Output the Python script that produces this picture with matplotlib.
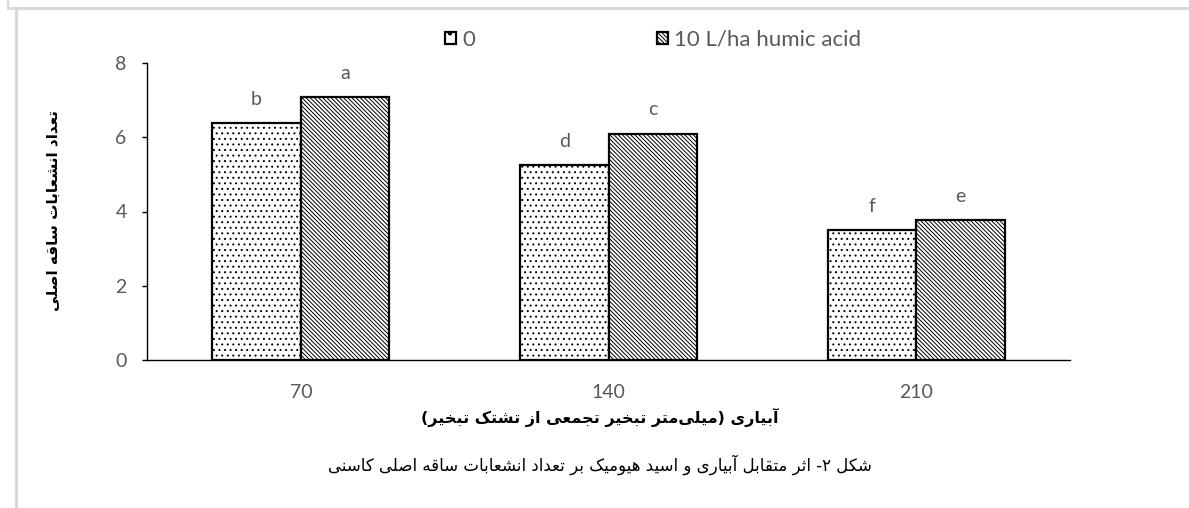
import numpy as np
import matplotlib
matplotlib.use("Agg")
import matplotlib.pyplot as plt
from matplotlib.patches import Patch
from matplotlib.lines import Line2D

# values
irrigation = ["70", "140", "210"]
series_names = ["0", "10 L/ha humic acid"]
no_humic = [6.38, 5.25, 3.50]
humic = [7.08, 6.10, 3.78]
letters_no_humic = ["b", "d", "f"]
letters_humic = ["a", "c", "e"]

Y_LABEL = "تعداد انشعابات ساقه اصلی"
X_LABEL = "آبیاری (میلی\u200cمتر تبخیر تجمعی از تشتک تبخیر)"
CAPTION = "شکل ۲- اثر متقابل آبیاری و اسید هیومیک بر تعداد انشعابات ساقه اصلی کاسنی"

GREY = "#595959"

# matplotlib does no Arabic shaping, so pick the contextual forms by hand
# letter -> (isolated, final[, initial, medial])
FORMS = {
    "\u0627": ("\uFE8D", "\uFE8E"),
    "\u0622": ("\uFE81", "\uFE82"),
    "\u0628": ("\uFE8F", "\uFE90", "\uFE91", "\uFE92"),
    "\u067E": ("\uFB56", "\uFB57", "\uFB58", "\uFB59"),
    "\u062A": ("\uFE95", "\uFE96", "\uFE97", "\uFE98"),
    "\u062B": ("\uFE99", "\uFE9A", "\uFE9B", "\uFE9C"),
    "\u062C": ("\uFE9D", "\uFE9E", "\uFE9F", "\uFEA0"),
    "\u0686": ("\uFB7A", "\uFB7B", "\uFB7C", "\uFB7D"),
    "\u062D": ("\uFEA1", "\uFEA2", "\uFEA3", "\uFEA4"),
    "\u062E": ("\uFEA5", "\uFEA6", "\uFEA7", "\uFEA8"),
    "\u062F": ("\uFEA9", "\uFEAA"),
    "\u0630": ("\uFEAB", "\uFEAC"),
    "\u0631": ("\uFEAD", "\uFEAE"),
    "\u0632": ("\uFEAF", "\uFEB0"),
    "\u0698": ("\uFB8A", "\uFB8B"),
    "\u0633": ("\uFEB1", "\uFEB2", "\uFEB3", "\uFEB4"),
    "\u0634": ("\uFEB5", "\uFEB6", "\uFEB7", "\uFEB8"),
    "\u0635": ("\uFEB9", "\uFEBA", "\uFEBB", "\uFEBC"),
    "\u0636": ("\uFEBD", "\uFEBE", "\uFEBF", "\uFEC0"),
    "\u0637": ("\uFEC1", "\uFEC2", "\uFEC3", "\uFEC4"),
    "\u0638": ("\uFEC5", "\uFEC6", "\uFEC7", "\uFEC8"),
    "\u0639": ("\uFEC9", "\uFECA", "\uFECB", "\uFECC"),
    "\u063A": ("\uFECD", "\uFECE", "\uFECF", "\uFED0"),
    "\u0641": ("\uFED1", "\uFED2", "\uFED3", "\uFED4"),
    "\u0642": ("\uFED5", "\uFED6", "\uFED7", "\uFED8"),
    "\u06A9": ("\uFB8E", "\uFB8F", "\uFB90", "\uFB91"),
    "\u06AF": ("\uFB92", "\uFB93", "\uFB94", "\uFB95"),
    "\u0644": ("\uFEDD", "\uFEDE", "\uFEDF", "\uFEE0"),
    "\u0645": ("\uFEE1", "\uFEE2", "\uFEE3", "\uFEE4"),
    "\u0646": ("\uFEE5", "\uFEE6", "\uFEE7", "\uFEE8"),
    "\u0648": ("\uFEED", "\uFEEE"),
    "\u0647": ("\uFEE9", "\uFEEA", "\uFEEB", "\uFEEC"),
    "\u06CC": ("\uFBFC", "\uFBFD", "\uFBFE", "\uFBFF"),
}
MIRROR = {"(": ")", ")": "("}


def shape(word):
    out = []
    for i, ch in enumerate(word):
        forms = FORMS.get(ch)
        if forms is None:
            if ch != "\u200c":
                out.append(ch)
            continue
        prev = FORMS.get(word[i - 1]) if i > 0 else None
        nxt = FORMS.get(word[i + 1]) if i + 1 < len(word) else None
        join_prev = prev is not None and len(prev) == 4
        join_next = nxt is not None and len(forms) == 4
        if join_prev and join_next:
            out.append(forms[3])
        elif join_prev:
            out.append(forms[1])
        elif join_next:
            out.append(forms[2])
        else:
            out.append(forms[0])
    return "".join(out)


def rtl(text):
    # whole line is right-to-left; brackets swap when reversed
    return "".join(MIRROR.get(c, c) for c in shape(text)[::-1])


plt.rcParams["font.family"] = ["Lato", "DejaVu Sans"]
plt.rcParams["hatch.linewidth"] = 0.7

W, H = 1189, 508
fig = plt.figure(figsize=(W / 100, H / 100), dpi=100)
ax = fig.add_axes([147 / W, 148 / H, 923 / W, 297 / H])

x = np.arange(len(irrigation))
width = 0.288
dots = "..."
lines = "\\" * 8
bars0 = ax.bar(x - width / 2, no_humic, width, facecolor="white", edgecolor="black",
               linewidth=1.6, hatch=dots, label=series_names[0])
bars1 = ax.bar(x + width / 2, humic, width, facecolor="white", edgecolor="black",
               linewidth=1.6, hatch=lines, label=series_names[1])

for bars, letters in [(bars0, letters_no_humic), (bars1, letters_humic)]:
    for rect, letter in zip(bars, letters):
        ax.annotate(letter, (rect.get_x() + rect.get_width() / 2, rect.get_height()),
                    xytext=(0, 13), textcoords="offset points", ha="center",
                    va="baseline", fontsize=14, color=GREY)

ax.set_xlim(-0.5, 2.5)
ax.set_ylim(0, 8)
ax.set_yticks([0, 2, 4, 6, 8])
ax.set_xticks(x)
ax.set_xticklabels(irrigation)
ax.tick_params(axis="x", length=0, pad=17, labelsize=14, labelcolor=GREY)
ax.tick_params(axis="y", length=3.6, width=1, pad=11, labelsize=14, labelcolor=GREY)
for side in ["top", "right"]:
    ax.spines[side].set_visible(False)
ax.spines["left"].set_linewidth(1)
ax.spines["bottom"].set_linewidth(1)

handles = [Patch(facecolor="white", edgecolor="black", linewidth=1.6, hatch="."),
           Patch(facecolor="white", edgecolor="black", linewidth=1.6, hatch=lines)]
fig.legend(handles, series_names, loc="center", bbox_to_anchor=(653 / W, 1 - 40 / H),
           ncol=2, frameon=False, handlelength=0.5, handleheight=0.5,
           handletextpad=0.25, columnspacing=8.2, fontsize=16, labelcolor=GREY)

fig.text(53 / W, 1 - 211 / H, rtl(Y_LABEL), rotation=90, ha="center", va="center",
         family="DejaVu Sans", fontweight="bold", fontsize=11)
fig.text(600 / W, 1 - 417 / H, rtl(X_LABEL), ha="center", va="center",
         family="DejaVu Sans", fontweight="bold", fontsize=11.5)
fig.text(600 / W, 1 - 465 / H, rtl(CAPTION), ha="center", va="center",
         family="DejaVu Sans", fontsize=12)

# light grey chart frame edges seen at the top-left of the reference
frame = "#D9D9D9"
fig.add_artist(Line2D([8 / W, 8 / W], [1, 1 - 7 / H], color=frame, lw=1.5))
fig.add_artist(Line2D([8 / W, 1], [1 - 8 / H, 1 - 8 / H], color=frame, lw=2.2))
fig.add_artist(Line2D([16 / W, 16 / W], [1 - 10 / H, 0], color=frame, lw=2.2))

fig.savefig("out.png", dpi=100)
